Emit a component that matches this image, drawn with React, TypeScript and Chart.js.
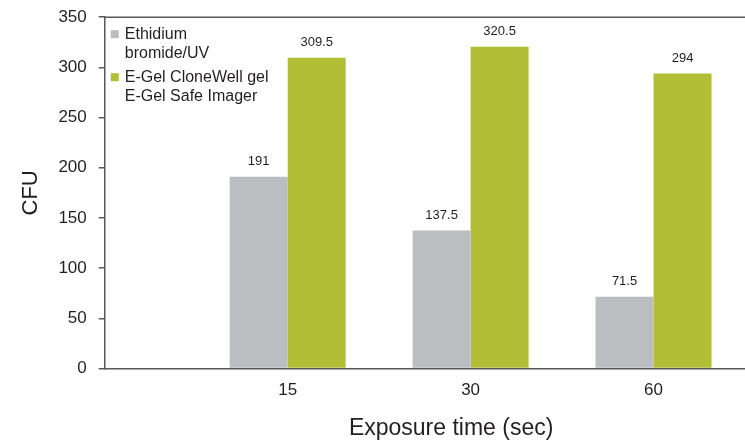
import React, { useEffect, useRef } from "react";
import { Chart, registerables } from "chart.js";

Chart.register(...registerables);

const categories = ["15", "30", "60"];
const categoryPositions = [1, 2, 3];
const ethidiumValues = [191, 137.5, 71.5];
const eGelValues = [309.5, 320.5, 294];
const ethidiumLegend = ["Ethidium", "bromide/UV"];
const eGelLegend = ["E-Gel CloneWell gel", "E-Gel Safe Imager"];
const yTickStep = 50;
const yMax = 350;
const xTitle = "Exposure time (sec)";
const yTitle = "CFU";

const GRAY = "#BCBDC0";
const GREEN = "#B3BE37";
const AXIS = "#58595B";
const TEXT = "#231F20";
const FONT = "'Liberation Sans', Arial, Helvetica, sans-serif";

export default function App() {
  const ref = useRef<HTMLCanvasElement>(null);

  useEffect(() => {
    if (!ref.current) return;
    const extras = {
      id: "extras",
      afterDatasetsDraw(chart: any) {
        const ctx = chart.ctx;
        const area = chart.chartArea;
        ctx.save();
        // top border
        ctx.strokeStyle = AXIS;
        ctx.lineWidth = 1.5;
        ctx.beginPath();
        ctx.moveTo(area.left, area.top);
        ctx.lineTo(area.right, area.top);
        ctx.stroke();
        // value labels
        ctx.fillStyle = TEXT;
        ctx.font = `13px ${FONT}`;
        ctx.textAlign = "center";
        ctx.textBaseline = "middle";
        chart.data.datasets.forEach((ds: any, di: number) => {
          const meta = chart.getDatasetMeta(di);
          meta.data.forEach((bar: any, i: number) => {
            const v = ds.data[i].y;
            ctx.fillText(String(v), bar.x, bar.y - 15);
          });
        });
        // legend
        const entries = [
          { color: GRAY, lines: ethidiumLegend },
          { color: GREEN, lines: eGelLegend },
        ];
        ctx.font = `16px ${FONT}`;
        ctx.textAlign = "left";
        let y = area.top + 17;
        entries.forEach((e) => {
          ctx.fillStyle = e.color;
          ctx.fillRect(area.left + 6, y - 4, 8, 8);
          ctx.fillStyle = TEXT;
          e.lines.forEach((l, li) => {
            ctx.fillText(l, area.left + 20, y + li * 19);
          });
          y += 43;
        });
        // x title
        ctx.font = `23px ${FONT}`;
        ctx.textAlign = "center";
        ctx.fillText(xTitle, area.left + (area.right - area.left) * 0.541, chart.height - 14);
        ctx.restore();
      },
    };

    const chart = new Chart(ref.current, {
      type: "bar",
      data: {
        datasets: [
          {
            label: ethidiumLegend.join(" "),
            data: categoryPositions.map((x, i) => ({ x, y: ethidiumValues[i] })),
            backgroundColor: GRAY,
          },
          {
            label: eGelLegend.join(" "),
            data: categoryPositions.map((x, i) => ({ x, y: eGelValues[i] })),
            backgroundColor: GREEN,
          },
        ],
      },
      options: {
        animation: false,
        responsive: true,
        maintainAspectRatio: false,
        categoryPercentage: 0.634,
        barPercentage: 1,
        layout: { padding: { top: 7, right: 0, bottom: 30, left: 0 } },
        plugins: { legend: { display: false }, tooltip: { enabled: false } },
        scales: {
          x: {
            type: "linear",
            min: 0,
            max: 3.5,
            offset: false,
            grid: { display: false, drawTicks: false },
            border: { display: true, color: AXIS, width: 1.5 },
            ticks: {
              stepSize: 1,
              includeBounds: false,
              padding: 12,
              color: TEXT,
              font: { size: 17, family: FONT },
              maxRotation: 0,
              callback: (v: any) => {
                const idx = categoryPositions.indexOf(Number(v));
                return idx >= 0 ? categories[idx] : "";
              },
            },
          },
          y: {
            min: 0,
            max: yMax,
            grid: { drawOnChartArea: false, drawTicks: true, tickLength: 6, color: AXIS, lineWidth: 1.5 },
            border: { display: true, color: AXIS, width: 1.5 },
            ticks: {
              stepSize: yTickStep,
              padding: 12,
              color: TEXT,
              font: { size: 17, family: FONT },
            },
            title: {
              display: true,
              text: yTitle,
              color: TEXT,
              font: { size: 22, family: FONT },
              padding: { top: 18, bottom: 2 },
            },
          },
        },
      },
      plugins: [extras],
    } as any);
    return () => chart.destroy();
  }, []);

  return (
    <div style={{ position: "fixed", left: 0, top: -5, width: 745, height: 448 }}>
      <canvas ref={ref} />
    </div>
  );
}
